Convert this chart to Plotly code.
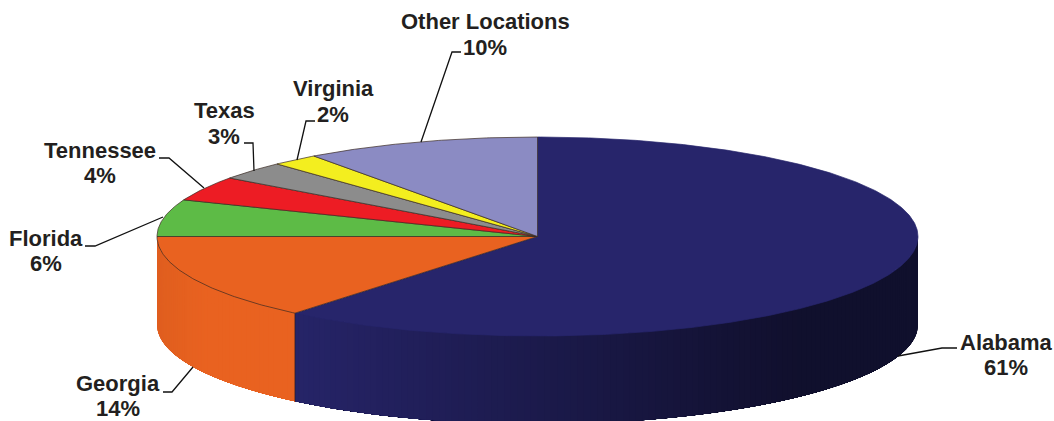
import numpy as np
import plotly.graph_objects as go

categories = ["Alabama", "Georgia", "Florida", "Tennessee", "Texas", "Virginia", "Other Locations"]
shares = [61, 14, 6, 4, 3, 2, 10]
colors = ["#27256b", "#e96220", "#5dbb46", "#ed1c24", "#8c8c8c", "#f3ee1f", "#8b8bc3"]
label_x = [1006, 118, 46, 100, 224, 333, 485]
name_y = [342, 383, 238, 150, 110, 88, 21]
pct_y = [367, 408, 263, 175, 136, 114, 47]
leaders = [
    [(957, 348), (942, 348), (898, 356)],
    [(163, 392), (172, 392), (193, 367)],
    [(85, 246), (95, 246), (163, 217)],
    [(159, 158), (169, 158), (204, 188)],
    [(244, 143), (253, 143), (254, 171)],
    [(315, 121), (306, 121), (297, 160)],
    [(461, 52), (452, 52), (421, 142)],
]

CX, CY, RX, RY, DEPTH = 537.5, 236.5, 380.5, 99.5, 88


def px(t):
    return CX + RX * np.sin(np.radians(t))


def py(t):
    return CY - RY * np.cos(np.radians(t))


def shade(c, f):
    r, g, b = int(c[1:3], 16), int(c[3:5], 16), int(c[5:7], 16)
    return f"rgb({round(r*f)},{round(g*f)},{round(b*f)})"


fig = go.Figure()
cum = np.cumsum([0] + shares) * 3.6

# side walls: painter's order, each shaded layer covers the wall from its angle to the slice's end
for i in range(2):
    a0, a1 = cum[i], cum[i + 1]
    lo = max(a0, 90)
    if i == 0:
        order = np.arange(lo, a1, 1.0)
    else:
        order = np.arange(a1 - 1.0, lo - 0.01, -1.0)
    for s in order:
        ts = np.linspace(s, a1, 60) if i == 0 else np.linspace(lo, s + 1.0, 60)
        xs = list(px(ts)) + list(px(ts[::-1])) + [px(ts[0])]
        ys = list(py(ts)) + list(py(ts[::-1]) + DEPTH) + [py(ts[0])]
        if i == 0:
            f = 0.42 + 0.56 * min(1, max(0, (800 - px(s)) / 510))
        else:
            f = 0.96 + 0.04 * min(1, max(0, (px(s) - 158) / 50))
        c = shade(colors[i], f)
        fig.add_trace(go.Scatter(x=xs, y=ys, mode="lines", fill="toself", fillcolor=c,
                                 line=dict(width=0), hoverinfo="skip", showlegend=False))

# boundary between the two walls
wt = cum[1]
fig.add_trace(go.Scatter(x=[px(wt), px(wt)], y=[py(wt), py(wt) + DEPTH], mode="lines",
                         line=dict(width=0.7, color="#2a1a20"), hoverinfo="skip", showlegend=False))

# top slices
for i, name in enumerate(categories):
    ts = np.linspace(cum[i], cum[i + 1], max(6, int(shares[i] * 8)))
    xs = [CX] + list(px(ts)) + [CX]
    ys = [CY] + list(py(ts)) + [CY]
    fig.add_trace(go.Scatter(x=xs, y=ys, mode="lines", fill="toself", fillcolor=colors[i],
                             line=dict(width=0.7, color="#3a2a22" if i else colors[0]), name=name,
                             text=f"{name} {shares[i]}%", hoverinfo="text", showlegend=False))

# leaders and labels
annotations = []
font = dict(family="Liberation Sans", size=22, color="#231f20")
for i, name in enumerate(categories):
    pts = leaders[i]
    fig.add_trace(go.Scatter(x=[p[0] for p in pts], y=[p[1] for p in pts], mode="lines",
                             line=dict(width=1.3, color="#111"), hoverinfo="skip", showlegend=False))
    annotations.append(dict(x=label_x[i], y=name_y[i], xref="x", yref="y", showarrow=False,
                            text=f"<b>{name}</b>", font=font))
    annotations.append(dict(x=label_x[i], y=pct_y[i], xref="x", yref="y", showarrow=False,
                            text=f"<b>{shares[i]}%</b>", font=font))

fig.update_layout(
    width=1054, height=421, margin=dict(l=0, r=0, t=0, b=0),
    paper_bgcolor="white", plot_bgcolor="white", showlegend=False,
    xaxis=dict(range=[0, 1054], visible=False, fixedrange=True),
    yaxis=dict(range=[421, 0], visible=False, fixedrange=True),
    annotations=annotations,
)
fig.write_html("out.html", config={"displayModeBar": False},
               post_script="document.body.style.margin='0';document.body.style.overflow='hidden';")
